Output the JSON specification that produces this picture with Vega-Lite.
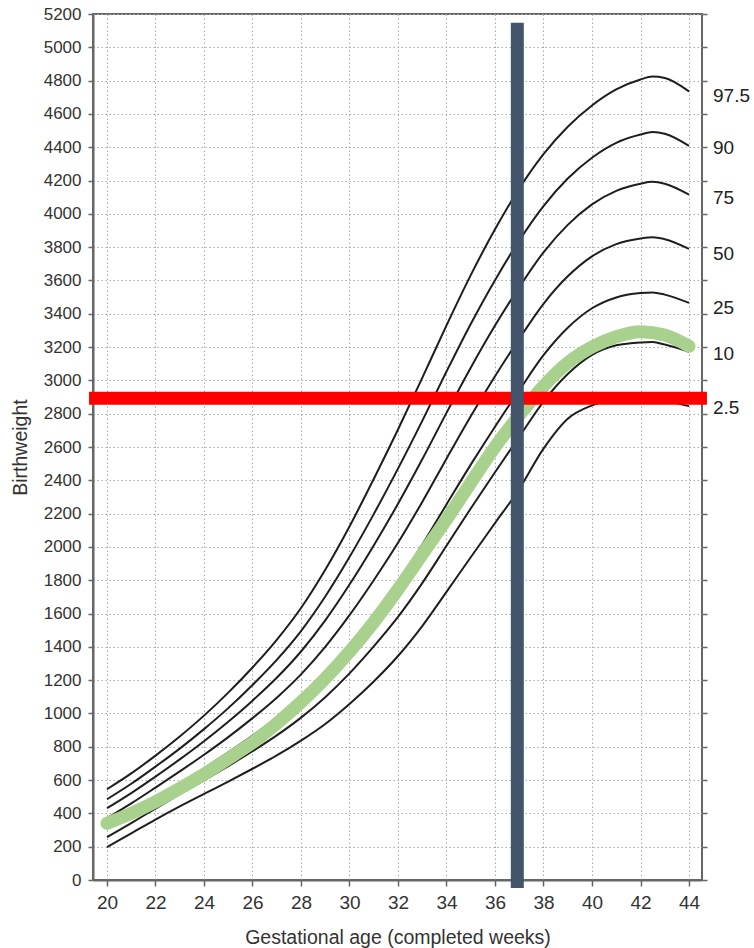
{
  "$schema": "https://vega.github.io/schema/vega-lite/v6.json",
  "width": 609,
  "height": 866,
  "autosize": {"type": "none"},
  "padding": {"left": 93, "top": 14, "right": 52, "bottom": 68},
  "background": "white",
  "config": {
    "view": {"stroke": "#666", "strokeWidth": 2},
    "font": "Liberation Sans",
    "axis": {"domainColor": "#666", "domainWidth": 2, "tickColor": "#666", "tickWidth": 1.5, "labelColor": "#333", "titleColor": "#333", "labelFont": "Liberation Sans", "titleFont": "Liberation Sans", "titleFontWeight": "normal"}
  },
  "datasets": {
    "curves": [
      {"pct":"97.5","week":20,"value":545},{"pct":"97.5","week":21,"value":640},{"pct":"97.5","week":22,"value":747},{"pct":"97.5","week":23,"value":862},{"pct":"97.5","week":24,"value":987},{"pct":"97.5","week":25,"value":1125},{"pct":"97.5","week":26,"value":1276},{"pct":"97.5","week":27,"value":1442},{"pct":"97.5","week":28,"value":1633},{"pct":"97.5","week":29,"value":1863},{"pct":"97.5","week":30,"value":2123},{"pct":"97.5","week":31,"value":2408},{"pct":"97.5","week":32,"value":2705},{"pct":"97.5","week":33,"value":3015},{"pct":"97.5","week":34,"value":3330},{"pct":"97.5","week":35,"value":3632},{"pct":"97.5","week":36,"value":3907},{"pct":"97.5","week":37,"value":4152},{"pct":"97.5","week":38,"value":4358},{"pct":"97.5","week":39,"value":4523},{"pct":"97.5","week":40,"value":4651},{"pct":"97.5","week":41,"value":4747},{"pct":"97.5","week":42,"value":4807},{"pct":"97.5","week":42.5,"value":4824},{"pct":"97.5","week":43,"value":4816},{"pct":"97.5","week":44,"value":4735},
      {"pct":"90","week":20,"value":485},{"pct":"90","week":21,"value":578},{"pct":"90","week":22,"value":681},{"pct":"90","week":23,"value":789},{"pct":"90","week":24,"value":906},{"pct":"90","week":25,"value":1032},{"pct":"90","week":26,"value":1171},{"pct":"90","week":27,"value":1322},{"pct":"90","week":28,"value":1495},{"pct":"90","week":29,"value":1702},{"pct":"90","week":30,"value":1939},{"pct":"90","week":31,"value":2197},{"pct":"90","week":32,"value":2470},{"pct":"90","week":33,"value":2757},{"pct":"90","week":34,"value":3053},{"pct":"90","week":35,"value":3339},{"pct":"90","week":36,"value":3602},{"pct":"90","week":37,"value":3840},{"pct":"90","week":38,"value":4047},{"pct":"90","week":39,"value":4212},{"pct":"90","week":40,"value":4337},{"pct":"90","week":41,"value":4426},{"pct":"90","week":42,"value":4476},{"pct":"90","week":42.5,"value":4491},{"pct":"90","week":43,"value":4481},{"pct":"90","week":44,"value":4408},
      {"pct":"75","week":20,"value":431},{"pct":"75","week":21,"value":522},{"pct":"75","week":22,"value":621},{"pct":"75","week":23,"value":724},{"pct":"75","week":24,"value":833},{"pct":"75","week":25,"value":950},{"pct":"75","week":26,"value":1077},{"pct":"75","week":27,"value":1214},{"pct":"75","week":28,"value":1372},{"pct":"75","week":29,"value":1559},{"pct":"75","week":30,"value":1774},{"pct":"75","week":31,"value":2009},{"pct":"75","week":32,"value":2259},{"pct":"75","week":33,"value":2526},{"pct":"75","week":34,"value":2805},{"pct":"75","week":35,"value":3076},{"pct":"75","week":36,"value":3329},{"pct":"75","week":37,"value":3560},{"pct":"75","week":38,"value":3769},{"pct":"75","week":39,"value":3934},{"pct":"75","week":40,"value":4057},{"pct":"75","week":41,"value":4138},{"pct":"75","week":42,"value":4181},{"pct":"75","week":42.5,"value":4192},{"pct":"75","week":43,"value":4181},{"pct":"75","week":44,"value":4115},
      {"pct":"50","week":20,"value":371},{"pct":"50","week":21,"value":460},{"pct":"50","week":22,"value":555},{"pct":"50","week":23,"value":652},{"pct":"50","week":24,"value":752},{"pct":"50","week":25,"value":858},{"pct":"50","week":26,"value":972},{"pct":"50","week":27,"value":1095},{"pct":"50","week":28,"value":1235},{"pct":"50","week":29,"value":1400},{"pct":"50","week":30,"value":1590},{"pct":"50","week":31,"value":1800},{"pct":"50","week":32,"value":2025},{"pct":"50","week":33,"value":2270},{"pct":"50","week":34,"value":2530},{"pct":"50","week":35,"value":2785},{"pct":"50","week":36,"value":3025},{"pct":"50","week":37,"value":3250},{"pct":"50","week":38,"value":3460},{"pct":"50","week":39,"value":3625},{"pct":"50","week":40,"value":3745},{"pct":"50","week":41,"value":3818},{"pct":"50","week":42,"value":3852},{"pct":"50","week":42.5,"value":3860},{"pct":"50","week":43,"value":3848},{"pct":"50","week":44,"value":3790},
      {"pct":"25","week":20,"value":311},{"pct":"25","week":21,"value":398},{"pct":"25","week":22,"value":489},{"pct":"25","week":23,"value":580},{"pct":"25","week":24,"value":671},{"pct":"25","week":25,"value":766},{"pct":"25","week":26,"value":867},{"pct":"25","week":27,"value":976},{"pct":"25","week":28,"value":1098},{"pct":"25","week":29,"value":1241},{"pct":"25","week":30,"value":1407},{"pct":"25","week":31,"value":1591},{"pct":"25","week":32,"value":1791},{"pct":"25","week":33,"value":2014},{"pct":"25","week":34,"value":2255},{"pct":"25","week":35,"value":2494},{"pct":"25","week":36,"value":2722},{"pct":"25","week":37,"value":2940},{"pct":"25","week":38,"value":3151},{"pct":"25","week":39,"value":3316},{"pct":"25","week":40,"value":3433},{"pct":"25","week":41,"value":3498},{"pct":"25","week":42,"value":3524},{"pct":"25","week":42.5,"value":3528},{"pct":"25","week":43,"value":3515},{"pct":"25","week":44,"value":3465},
      {"pct":"10","week":20,"value":257},{"pct":"10","week":21,"value":342},{"pct":"10","week":22,"value":429},{"pct":"10","week":23,"value":515},{"pct":"10","week":24,"value":598},{"pct":"10","week":25,"value":684},{"pct":"10","week":26,"value":773},{"pct":"10","week":27,"value":868},{"pct":"10","week":28,"value":975},{"pct":"10","week":29,"value":1098},{"pct":"10","week":30,"value":1241},{"pct":"10","week":31,"value":1403},{"pct":"10","week":32,"value":1580},{"pct":"10","week":33,"value":1783},{"pct":"10","week":34,"value":2007},{"pct":"10","week":35,"value":2231},{"pct":"10","week":36,"value":2448},{"pct":"10","week":37,"value":2661},{"pct":"10","week":38,"value":2873},{"pct":"10","week":39,"value":3038},{"pct":"10","week":40,"value":3153},{"pct":"10","week":41,"value":3211},{"pct":"10","week":42,"value":3228},{"pct":"10","week":42.5,"value":3230},{"pct":"10","week":43,"value":3215},{"pct":"10","week":44,"value":3172},
      {"pct":"2.5","week":20,"value":197},{"pct":"2.5","week":21,"value":280},{"pct":"2.5","week":22,"value":363},{"pct":"2.5","week":23,"value":442},{"pct":"2.5","week":24,"value":517},{"pct":"2.5","week":25,"value":591},{"pct":"2.5","week":26,"value":668},{"pct":"2.5","week":27,"value":748},{"pct":"2.5","week":28,"value":837},{"pct":"2.5","week":29,"value":937},{"pct":"2.5","week":30,"value":1057},{"pct":"2.5","week":31,"value":1192},{"pct":"2.5","week":32,"value":1345},{"pct":"2.5","week":33,"value":1525},{"pct":"2.5","week":34,"value":1730},{"pct":"2.5","week":35,"value":1938},{"pct":"2.5","week":36,"value":2143},{"pct":"2.5","week":37,"value":2348},{"pct":"2.5","week":38,"value":2590},{"pct":"2.5","week":39,"value":2770},{"pct":"2.5","week":40,"value":2850},{"pct":"2.5","week":41,"value":2889},{"pct":"2.5","week":42,"value":2898},{"pct":"2.5","week":42.5,"value":2896},{"pct":"2.5","week":43,"value":2880},{"pct":"2.5","week":44,"value":2845}
    ],
    "baby": [
      {"week":20,"value":340},{"week":21,"value":400},{"week":22,"value":470},{"week":23,"value":550},{"week":24,"value":635},{"week":25,"value":728},{"week":26,"value":825},{"week":27,"value":940},{"week":28,"value":1068},{"week":29,"value":1210},{"week":30,"value":1370},{"week":31,"value":1548},{"week":32,"value":1745},{"week":33,"value":1955},{"week":34,"value":2165},{"week":35,"value":2385},{"week":36,"value":2600},{"week":37,"value":2790},{"week":38,"value":2965},{"week":39,"value":3105},{"week":40,"value":3200},{"week":41,"value":3262},{"week":42,"value":3292},{"week":43,"value":3272},{"week":44,"value":3205}
    ],
    "labels": [
      {"week":44,"value":4708,"label":"97.5"},{"week":44,"value":4396,"label":"90"},{"week":44,"value":4096,"label":"75"},{"week":44,"value":3760,"label":"50"},{"week":44,"value":3435,"label":"25"},{"week":44,"value":3159,"label":"10"},{"week":44,"value":2835,"label":"2.5"}
    ],
    "hline": [{"week":19.26,"week2":44.74,"value":2892}],
    "vline": [{"week":36.92,"value":-48,"value2":5147}]
  },
  "encoding": {
    "x": {"field": "week", "type": "quantitative", "scale": {"domain": [19.423, 44.536], "nice": false, "zero": false},
      "axis": {"values": [20,22,24,26,28,30,32,34,36,38,40,42,44], "grid": true, "gridColor": "#aaa", "gridDash": [1.5,2.5], "gridWidth": 1, "tickSize": 6, "labelFontSize": 19, "labelPadding": 7, "title": "Gestational age (completed weeks)", "titleFontSize": 19.5, "titleY": 63, "titleBaseline": "alphabetic"}}
  },
  "resolve": {"axis": {"y": "independent", "x": "shared"}},
  "layer": [
    {
      "data": {"name": "curves"},
      "mark": {"type": "line", "color": "#1e1e1e", "strokeWidth": 2, "interpolate": "monotone"},
      "encoding": {
        "y": {"field": "value", "type": "quantitative", "scale": {"domain": [0, 5200], "nice": false, "zero": false},
          "axis": {"orient": "left", "format": "d", "values": [0,200,400,600,800,1000,1200,1400,1600,1800,2000,2200,2400,2600,2800,3000,3200,3400,3600,3800,4000,4200,4400,4600,4800,5000,5200], "grid": true, "gridColor": "#aaa", "gridDash": [1.5,2.5], "gridWidth": 1, "tickSize": 5, "labelFontSize": 17, "labelPadding": 7, "title": "Birthweight", "titleFontSize": 19.5, "titleX": -73, "titleY": 433, "titleBaseline": "middle"}},
        "detail": {"field": "pct", "type": "nominal"}
      }
    },
    {
      "data": {"name": "baby"},
      "mark": {"type": "line", "color": "#a9d18e", "strokeWidth": 13, "strokeCap": "round", "strokeJoin": "round", "interpolate": "monotone"},
      "encoding": {
        "y": {"field": "value", "type": "quantitative", "scale": {"domain": [0, 5200], "nice": false, "zero": false}, "axis": null}
      }
    },
    {
      "data": {"name": "hline"},
      "mark": {"type": "rule", "color": "#ff0000", "strokeWidth": 13, "strokeCap": "butt"},
      "encoding": {
        "x2": {"field": "week2"},
        "y": {"field": "value", "type": "quantitative", "axis": null}
      }
    },
    {
      "data": {"name": "vline"},
      "mark": {"type": "rule", "color": "#44546a", "strokeWidth": 13, "strokeCap": "butt"},
      "encoding": {
        "y": {"field": "value", "type": "quantitative", "axis": null},
        "y2": {"field": "value2"}
      }
    },
    {
      "data": {"name": "labels"},
      "mark": {"type": "text", "align": "left", "baseline": "middle", "dx": 24, "fontSize": 19, "font": "Liberation Sans", "color": "#222"},
      "encoding": {
        "y": {"field": "value", "type": "quantitative",
          "axis": {"orient": "right", "values": [0,200,400,600,800,1000,1200,1400,1600,1800,2000,2200,2400,2600,2800,3000,3200,3400,3600,3800,4000,4200,4400,4600,4800,5000,5200], "labels": false, "grid": false, "domain": false, "tickSize": 5, "title": null}},
        "text": {"field": "label", "type": "nominal"}
      }
    }
  ]
}
